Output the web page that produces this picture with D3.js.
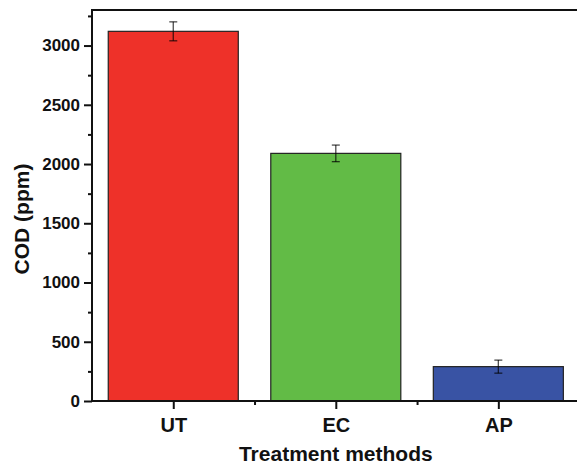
<!DOCTYPE html>
<html>
<head>
<meta charset="utf-8">
<script src="https://cdn.jsdelivr.net/npm/d3@7"></script>
<style>
  html, body { margin: 0; padding: 0; background: #fff; }
  svg { display: block; }
  text { font-family: "Liberation Sans", Arial, sans-serif; font-weight: bold; fill: #111; }
</style>
</head>
<body>
<svg id="chart" width="577" height="464"></svg>
<script>
// Data
const categories = ["UT", "EC", "AP"];
const codValues = [3120, 2090, 290];
const codErrors = [80, 70, 55];
const barColors = ["#EE3129", "#62BB46", "#3953A4"];
const yMajorTicks = [0, 500, 1000, 1500, 2000, 2500, 3000];
const yMinorTicks = [250, 750, 1250, 1750, 2250, 2750, 3250];
const xMinorTicks = [1.5, 2.5];

(function () {
const svg = d3.select("#chart");
const mLeft = 92, mRight = 579.6, mTop = 10, mBottom = 401;

const x = d3.scaleLinear().domain([0.5, 3.5]).range([mLeft, mRight]);
const y = d3.scaleLinear().domain([0, 3300]).range([mBottom, mTop]);
const barW = (x(1.8) - x(1));

// Bars
svg.append("g").selectAll("rect")
  .data(categories)
  .join("rect")
  .attr("x", (d, i) => x(i + 1) - barW / 2)
  .attr("width", barW)
  .attr("y", (d, i) => y(codValues[i]))
  .attr("height", (d, i) => y(0) - y(codValues[i]))
  .attr("fill", (d, i) => barColors[i])
  .attr("stroke", "#222")
  .attr("stroke-width", 1.2);

// Error bars
const eg = svg.append("g").attr("stroke", "#000").attr("stroke-opacity", 0.7).attr("stroke-width", 1.3);
categories.forEach((c, i) => {
  const cx = x(i + 1);
  const hi = y(codValues[i] + codErrors[i]);
  const lo = y(codValues[i] - codErrors[i]);
  eg.append("line").attr("x1", cx).attr("x2", cx).attr("y1", hi).attr("y2", lo);
  eg.append("line").attr("x1", cx - 4).attr("x2", cx + 4).attr("y1", hi).attr("y2", hi);
  eg.append("line").attr("x1", cx - 4).attr("x2", cx + 4).attr("y1", lo).attr("y2", lo);
});

// Y axis minor ticks
svg.append("g")
  .attr("transform", `translate(${mLeft},0)`)
  .call(d3.axisLeft(y).tickValues(yMinorTicks).tickSize(4).tickFormat(""))
  .call(g => g.select(".domain").remove())
  .call(g => g.selectAll("line").attr("stroke", "#111").attr("stroke-width", 2));

// Y axis major
svg.append("g")
  .attr("transform", `translate(${mLeft},0)`)
  .call(d3.axisLeft(y).tickValues(yMajorTicks).tickSize(8).tickPadding(4).tickFormat(d3.format("d")))
  .call(g => g.select(".domain").remove())
  .call(g => g.selectAll("line").attr("stroke", "#111").attr("stroke-width", 2))
  .call(g => g.selectAll("text").style("font-size", "17px").attr("fill", "#111"));

// X axis minor ticks
svg.append("g")
  .attr("transform", `translate(0,${mBottom})`)
  .call(d3.axisBottom(x).tickValues(xMinorTicks).tickSize(4).tickFormat(""))
  .call(g => g.select(".domain").remove())
  .call(g => g.selectAll("line").attr("stroke", "#111").attr("stroke-width", 2));

// X axis major
svg.append("g")
  .attr("transform", `translate(0,${mBottom})`)
  .call(d3.axisBottom(x).tickValues([1, 2, 3]).tickSize(8).tickPadding(9).tickFormat(d => categories[d - 1]))
  .call(g => g.select(".domain").remove())
  .call(g => g.selectAll("line").attr("stroke", "#111").attr("stroke-width", 2))
  .call(g => g.selectAll("text").style("font-size", "20px").attr("fill", "#111"));

// Frame
svg.append("rect")
  .attr("x", mLeft).attr("y", mTop)
  .attr("width", mRight - mLeft).attr("height", mBottom - mTop)
  .attr("fill", "none").attr("stroke", "#111").attr("stroke-width", 2);

// Axis titles
svg.append("text")
  .attr("x", (mLeft + mRight) / 2).attr("y", 461)
  .attr("text-anchor", "middle")
  .style("font-size", "21px")
  .text("Treatment methods");

svg.append("text")
  .attr("transform", "translate(28.5,219) rotate(-90)")
  .attr("text-anchor", "middle")
  .style("font-size", "21px")
  .text("COD (ppm)");
})();
</script>
</body>
</html>
